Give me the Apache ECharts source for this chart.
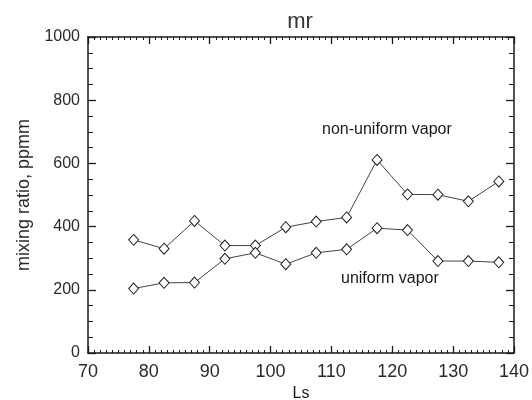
<!DOCTYPE html>
<html>
<head>
<meta charset="utf-8">
<script src="https://cdn.jsdelivr.net/npm/echarts@6/dist/echarts.min.js"></script>
<style>
html,body{margin:0;padding:0;background:#fff;}
#chart{width:532px;height:400px;}
</style>
</head>
<body>
<div id="chart"></div>
<script>
var ls = [77.5, 82.5, 87.5, 92.5, 97.5, 102.5, 107.5, 112.5, 117.5, 122.5, 127.5, 132.5, 137.5];
var nonUniform = [358, 330, 418, 340, 340, 398, 416, 429, 611, 502, 501, 480, 543];
var uniform = [204, 222, 223, 298, 317, 281, 317, 328, 395, 389, 291, 291, 287];
var xTicks = [70, 80, 90, 100, 110, 120, 130, 140];
var yTicks = [0, 200, 400, 600, 800, 1000];

var FONT = 'Liberation Sans';
var INK = '#1a1a1a';

function pairs(xs, ys) { return xs.map(function (x, i) { return [x, ys[i]]; }); }

var chart = echarts.init(document.getElementById('chart'), null, {renderer: 'canvas'});

function xAxisBase(pos, showLabel) {
  return {
    type: 'value', position: pos,
    min: xTicks[0], max: xTicks[xTicks.length - 1], interval: 10,
    axisLine: {show: true, onZero: false, lineStyle: {color: INK, width: 1.5}},
    axisTick: {show: true, inside: true, length: 7, lineStyle: {color: INK, width: 1.3}},
    minorTick: {show: true, splitNumber: 10, length: 3, lineStyle: {color: INK, width: 1}},
    axisLabel: {show: showLabel, color: '#2a2a2a', fontFamily: FONT, fontSize: 18, margin: 10,
      formatter: function (v) { return String(v); }},
    splitLine: {show: false}
  };
}
function yAxisBase(pos, showLabel) {
  return {
    type: 'value', position: pos,
    min: yTicks[0], max: yTicks[yTicks.length - 1], interval: 200,
    axisLine: {show: true, onZero: false, lineStyle: {color: INK, width: 1.5}},
    axisTick: {show: true, inside: true, length: 8, lineStyle: {color: INK, width: 1.3}},
    minorTick: {show: true, splitNumber: 4, length: 5, lineStyle: {color: INK, width: 1}},
    axisLabel: {show: showLabel, color: '#2a2a2a', fontFamily: FONT, fontSize: 16, margin: 8,
      formatter: function (v) { return String(v); }},
    splitLine: {show: false}
  };
}

var xb = xAxisBase('bottom', true);
xb.name = 'Ls';
xb.nameLocation = 'middle';
xb.nameGap = 33;
xb.nameTextStyle = {color: INK, fontFamily: FONT, fontSize: 16};
var yl = yAxisBase('left', true);
yl.name = 'mixing ratio, ppmm';
yl.nameLocation = 'middle';
yl.nameGap = 47;
yl.nameTextStyle = {color: '#2a2a2a', fontFamily: FONT, fontSize: 18};

function lineSeries(name, vals) {
  return {
    name: name, type: 'line', xAxisIndex: 0, yAxisIndex: 0,
    data: pairs(ls, vals),
    symbol: 'diamond', symbolSize: [10, 11],
    lineStyle: {color: '#444', width: 1},
    itemStyle: {color: '#fff', borderColor: '#222', borderWidth: 1},
    emphasis: {disabled: true},
    animation: false
  };
}

chart.setOption({
  animation: false,
  backgroundColor: '#fff',
  title: {
    text: 'mr', left: 295, top: 6, textAlign: 'center',
    textStyle: {color: '#333', fontFamily: FONT, fontSize: 22, fontWeight: 'normal'}
  },
  grid: {left: 88, right: 18, top: 37, bottom: 47, containLabel: false, outerBoundsMode: 'none'},
  xAxis: [xb, xAxisBase('top', false)],
  yAxis: [yl, yAxisBase('right', false)],
  series: [lineSeries('non-uniform vapor', nonUniform), lineSeries('uniform vapor', uniform)],
  graphic: [
    {type: 'text', left: 322, top: 122, style: {text: 'non-uniform vapor', fill: INK, font: '16px "Liberation Sans"'}},
    {type: 'text', left: 341, top: 271, style: {text: 'uniform vapor', fill: INK, font: '16px "Liberation Sans"'}}
  ]
});
</script>
</body>
</html>
